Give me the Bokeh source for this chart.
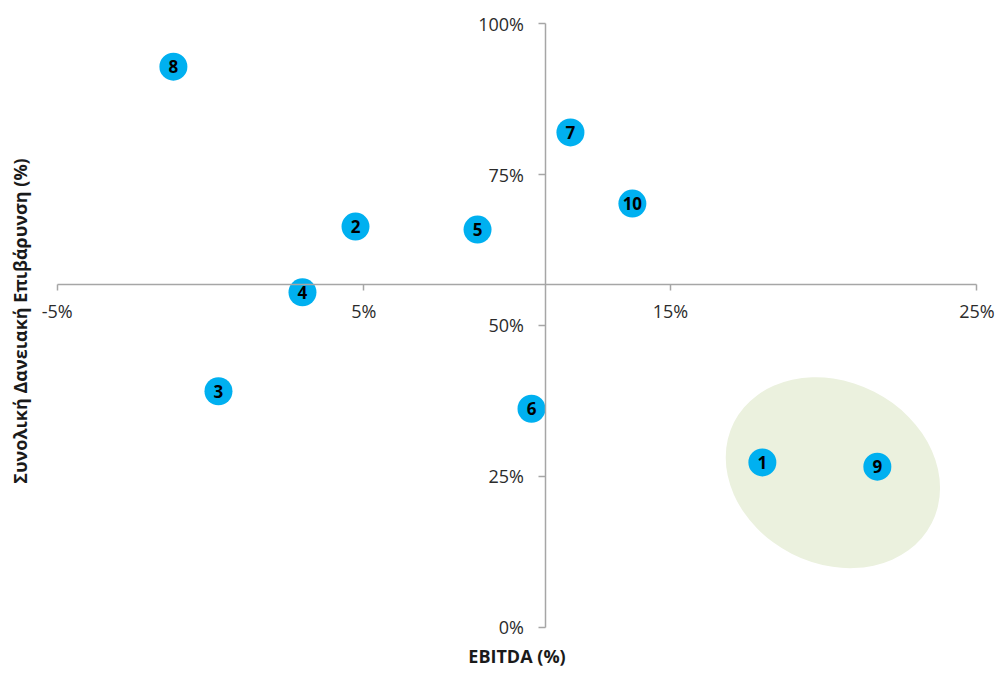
from bokeh.plotting import figure
from bokeh.models import Range1d, FixedTicker, Title, ColumnDataSource
from bokeh.core.properties import value
from bokeh.embed import file_html
from bokeh.resources import INLINE

# ---- data ----
labels = ["1", "2", "3", "4", "5", "6", "7", "8", "9", "10"]
ebitda = [18.0, 4.73, 0.26, 3.0, 8.71, 10.47, 11.74, -1.21, 21.75, 13.76]      # EBITDA (%)
leverage = [27.3, 66.4, 39.1, 55.5, 65.9, 36.2, 82.0, 92.9, 26.6, 70.2]        # total debt burden (%)

x_ticks = [-5, 5, 15, 25]
x_tick_labels = ["-5%", "5%", "15%", "25%"]
y_ticks = [0, 25, 50, 75, 100]
y_tick_labels = ["0%", "25%", "50%", "75%", "100%"]

x_axis_crosses_at = 56.8   # leverage value where the horizontal axis sits
y_axis_crosses_at = 10.94  # EBITDA value where the vertical axis sits

highlight_center_x = [20.3]
highlight_center_y = [25.6]

x_title = "EBITDA (%)"
y_title = "Συνολική Δανειακή Επιβάρυνση (%)"

FONT = "Open Sans"
AXIS_COLOR = "#A6A6A6"
LABEL_COLOR = "#2b2b2b"

# plotted frame is a little larger than the axes so that the tick labels are not clipped
p = figure(width=997, height=675, output_backend="svg", toolbar_location=None,
           x_range=Range1d(-5.675, 25.669), y_range=Range1d(-1.541, 103.03),
           min_border_left=36, min_border_right=0, min_border_top=5, min_border_bottom=39)
p.outline_line_color = None
p.grid.visible = False
p.background_fill_color = "white"
p.border_fill_color = "white"

# highlight ellipse
p.ellipse(x=highlight_center_x, y=highlight_center_y, width=222, height=182,
          width_units="screen", height_units="screen", angle=-27, angle_units="deg",
          fill_color="#EBF1DE", line_color=None, level="underlay")

src = ColumnDataSource(dict(x=ebitda, y=leverage, label=labels))
p.scatter("x", "y", source=src, size=28, fill_color="#00B0F0", line_color=None)
p.text("x", "y", text="label", source=src, text_align="center", text_baseline="middle",
       text_font=value(FONT), text_font_style="bold", text_font_size="17px", text_color="black")

xa = p.xaxis[0]
xa.fixed_location = x_axis_crosses_at
xa.bounds = (x_ticks[0], x_ticks[-1])
xa.ticker = FixedTicker(ticks=x_ticks)
xa.major_label_overrides = {t: l for t, l in zip(x_ticks, x_tick_labels)}
xa.minor_tick_line_color = None
xa.major_tick_in = 0
xa.major_tick_out = 6
xa.major_label_standoff = 9
xa.axis_line_color = AXIS_COLOR
xa.axis_line_width = 1.5
xa.major_tick_line_color = AXIS_COLOR
xa.major_tick_line_width = 1.5
xa.major_label_text_font = FONT
xa.major_label_text_font_size = "18px"
xa.major_label_text_color = LABEL_COLOR

ya = p.yaxis[0]
ya.fixed_location = y_axis_crosses_at
ya.bounds = (y_ticks[0], y_ticks[-1])
ya.ticker = FixedTicker(ticks=y_ticks)
ya.major_label_overrides = {t: l for t, l in zip(y_ticks, y_tick_labels)}
ya.minor_tick_line_color = None
ya.major_tick_in = 0
ya.major_tick_out = 7
ya.major_label_standoff = 15
ya.axis_line_color = AXIS_COLOR
ya.axis_line_width = 1.5
ya.major_tick_line_color = AXIS_COLOR
ya.major_tick_line_width = 1.5
ya.major_label_text_font = FONT
ya.major_label_text_font_size = "18px"
ya.major_label_text_color = LABEL_COLOR

p.add_layout(Title(text=x_title, align="center", text_font=FONT, text_font_size="18px",
                   text_font_style="bold", text_color="#1a1a1a"), "below")
p.add_layout(Title(text=y_title, align="center", text_font=FONT, text_font_size="18px",
                   text_font_style="bold", text_color="#1a1a1a"), "left")

open("out.html", "w").write(file_html(p, INLINE))
